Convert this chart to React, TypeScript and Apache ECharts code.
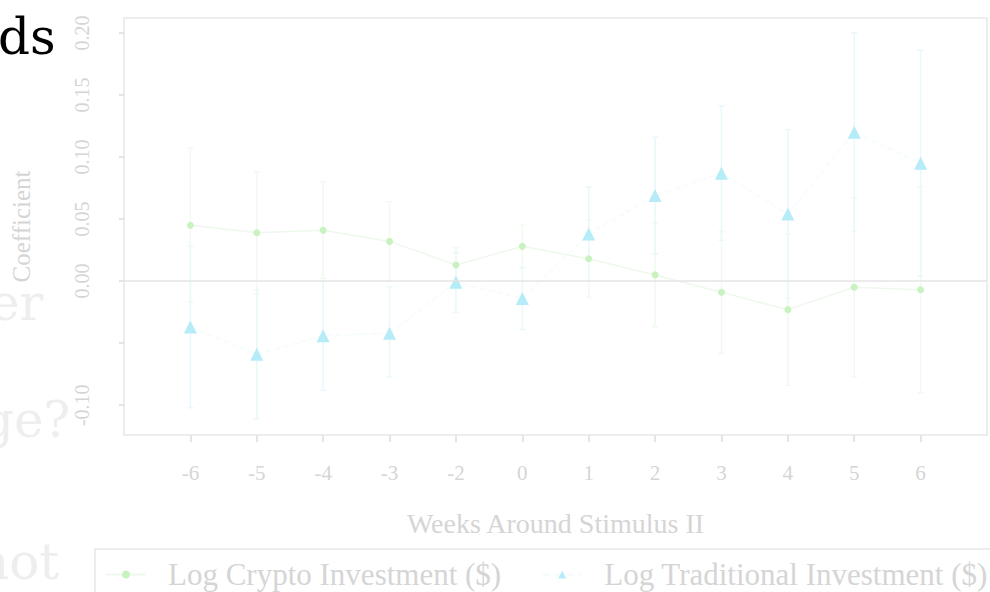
import React, { useEffect, useRef } from "react";
import * as echarts from "echarts";

const weekLabels = ["-6", "-5", "-4", "-3", "-2", "0", "1", "2", "3", "4", "5", "6"];
const cryptoCoef = [0.045, 0.039, 0.041, 0.032, 0.013, 0.028, 0.018, 0.005, -0.009, -0.023, -0.005, -0.007];
const cryptoLo = [-0.017, -0.010, 0.002, 0.000, -0.001, 0.011, -0.013, -0.037, -0.058, -0.084, -0.077, -0.090];
const cryptoHi = [0.107, 0.088, 0.080, 0.064, 0.027, 0.045, 0.049, 0.047, 0.040, 0.038, 0.067, 0.076];
const tradCoef = [-0.037, -0.059, -0.044, -0.042, -0.001, -0.014, 0.038, 0.069, 0.087, 0.054, 0.120, 0.095];
const tradLo = [-0.102, -0.111, -0.088, -0.077, -0.025, -0.039, 0.000, 0.022, 0.033, -0.014, 0.040, 0.004];
const tradHi = [0.028, -0.007, 0.000, -0.005, 0.023, 0.011, 0.076, 0.116, 0.141, 0.122, 0.200, 0.186];
const yTicks = [-0.1, -0.05, 0, 0.05, 0.1, 0.15, 0.2];
const yLabelValues = [-0.1, 0, 0.05, 0.1, 0.15, 0.2];

const SERIF = "'Liberation Serif', 'DejaVu Serif', serif";
const SLIDE = "'DejaVu Serif', serif";
const TXT = "#d5d5d5";

export default function App() {
  const ref = useRef<HTMLDivElement>(null);
  useEffect(() => {
    if (!ref.current) return;
    const chart = echarts.init(ref.current, null, { renderer: "svg" });
    const idx = weekLabels.map((_, i) => i);
    const errBar = (lo: number[], hi: number[], color: string) => ({
      type: "custom",
      silent: true,
      z: 1,
      data: idx.map((i) => [i, lo[i], hi[i]]),
      renderItem: (params: any, api: any) => {
        const x = api.value(0);
        const p1 = api.coord([x, api.value(1)]);
        const p2 = api.coord([x, api.value(2)]);
        const w = 3;
        const st = { stroke: color, lineWidth: 1.5 };
        return {
          type: "group",
          children: [
            { type: "line", shape: { x1: p1[0], y1: p1[1], x2: p2[0], y2: p2[1] }, style: st },
            { type: "line", shape: { x1: p1[0] - w, y1: p1[1], x2: p1[0] + w, y2: p1[1] }, style: st },
            { type: "line", shape: { x1: p2[0] - w, y1: p2[1], x2: p2[0] + w, y2: p2[1] }, style: st },
          ],
        };
      },
    });

    chart.setOption({
      animation: false,
      backgroundColor: "#ffffff",
      grid: {
        left: 124,
        top: 18,
        right: 3,
        bottom: 157,
        outerBoundsMode: "none",
        containLabel: false,
        show: true,
        borderColor: "#e8e8e8",
        borderWidth: 1.5,
        backgroundColor: "transparent",
      },
      xAxis: {
        type: "value",
        min: -1,
        max: 12,
        name: "Weeks Around Stimulus II",
        nameLocation: "middle",
        nameGap: 74,
        nameTextStyle: { fontFamily: SERIF, fontSize: 28, color: TXT },
        axisLine: { show: false, onZero: false },
        splitLine: { show: false },
        axisTick: { show: true, length: 7, lineStyle: { color: "#dcdcdc", width: 1.5 }, customValues: idx },
        axisLabel: {
          customValues: idx,
          margin: 27,
          fontFamily: SERIF,
          fontSize: 21,
          color: TXT,
          formatter: (v: number) => weekLabels[Math.round(v)] ?? "",
        },
      },
      yAxis: {
        type: "value",
        min: -0.124,
        max: 0.212,
        name: "Coefficient",
        nameLocation: "middle",
        nameGap: 90,
        nameRotate: 90,
        nameTextStyle: { fontFamily: SERIF, fontSize: 25, color: TXT },
        axisLine: { show: false, onZero: false },
        splitLine: { show: false },
        axisTick: { show: true, length: 5, lineStyle: { color: "#dcdcdc", width: 1.5 }, customValues: yTicks },
        axisLabel: {
          customValues: yLabelValues,
          rotate: 90,
          margin: 32,
          fontFamily: SERIF,
          fontSize: 20,
          color: TXT,
          formatter: (v: number) => v.toFixed(2),
        },
      },
      legend: {
        left: 95,
        top: 549,
        width: 940,
        orient: "horizontal",
        borderColor: "#e8e8e8",
        borderWidth: 1.5,
        padding: [10, 30, 12, 10],
        itemGap: 40,
        itemWidth: 40,
        itemHeight: 10,
        textStyle: { fontFamily: SERIF, fontSize: 31, color: TXT, padding: [0, 0, 0, 17] },
        data: ["Log Crypto Investment ($)", "Log Traditional Investment ($)"],
      },
      graphic: [
        { type: "text", left: -2, top: 12, style: { text: "ds", font: `50px ${SLIDE}`, fill: "#000000" } },
        { type: "text", left: -10, top: 278, style: { text: "er", font: `50px ${SLIDE}`, fill: "#eeeeee" } },
        { type: "text", left: -18, top: 395, style: { text: "ge?", font: `50px ${SLIDE}`, fill: "#eeeeee" } },
        { type: "text", left: -23, top: 537, style: { text: "not", font: `50px ${SLIDE}`, fill: "#eeeeee" } },
      ],
      series: [
        errBar(cryptoLo, cryptoHi, "#f0faee"),
        errBar(tradLo, tradHi, "#e8f8fb"),
        {
          name: "Log Crypto Investment ($)",
          type: "line",
          z: 3,
          data: idx.map((i) => [i, cryptoCoef[i]]),
          symbol: "circle",
          symbolSize: 7,
          itemStyle: { color: "#c9f2c0" },
          lineStyle: { color: "#eef8ec", width: 1.5 },
          markLine: {
            silent: true,
            symbol: "none",
            label: { show: false },
            lineStyle: { color: "#e4e4e4", width: 1.5, type: "solid" },
            data: [{ yAxis: 0 }],
          },
        },
        {
          name: "Log Traditional Investment ($)",
          type: "line",
          z: 3,
          data: idx.map((i) => [i, tradCoef[i]]),
          symbol: "triangle",
          symbolSize: 13,
          itemStyle: { color: "#b5ecf7" },
          lineStyle: { color: "#f5fcfd", width: 1.5, type: "dashed" },
        },
      ],
    });
    return () => chart.dispose();
  }, []);
  return <div ref={ref} style={{ position: "fixed", left: 0, top: 0, width: 990, height: 592 }} />;
}
